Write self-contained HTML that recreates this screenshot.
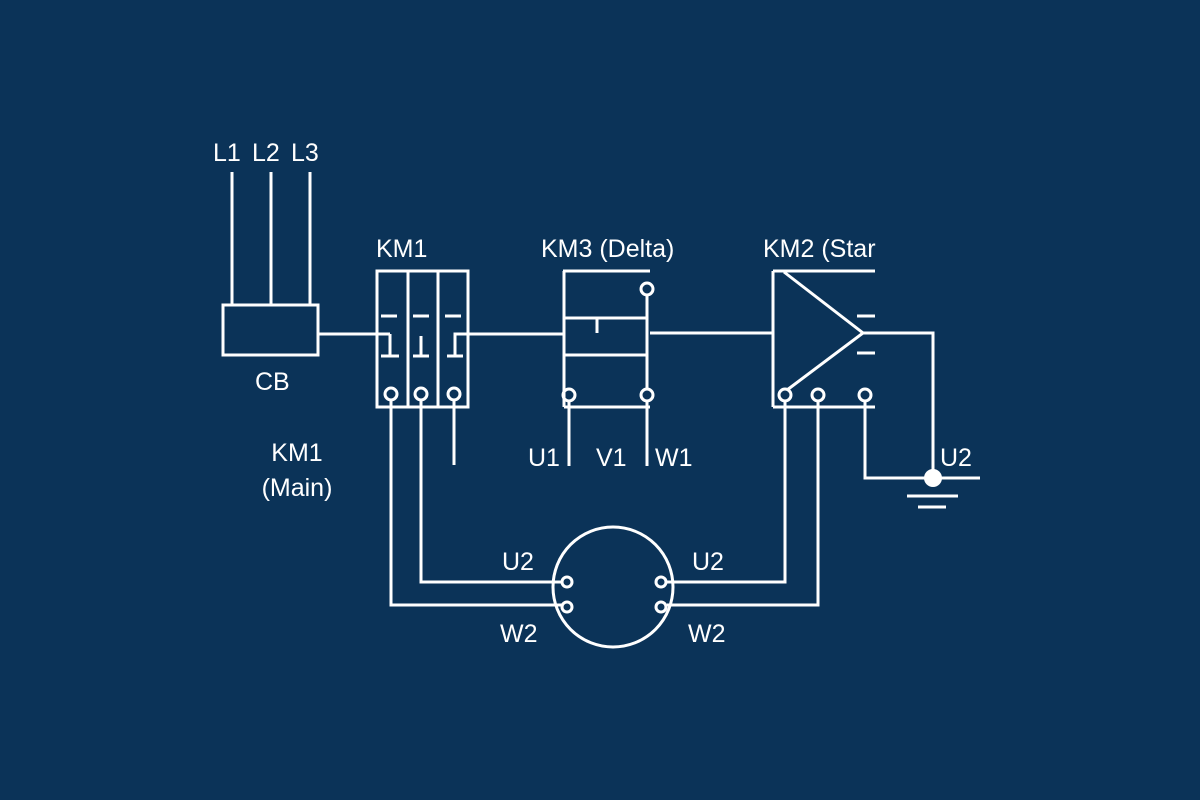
<!DOCTYPE html>
<html><head><style>
html,body{margin:0;padding:0;background:#0b3358;}
svg{display:block}
text{font-family:"Liberation Sans",sans-serif;font-size:25px;fill:#fff;}
</style></head><body>
<svg width="1200" height="800" viewBox="0 0 1200 800">
<rect width="1200" height="800" fill="#0b3358"/>
<g stroke="#fff" stroke-width="3" fill="none">
<line x1="232" y1="172" x2="232" y2="305"/><line x1="271" y1="172" x2="271" y2="305"/><line x1="310" y1="172" x2="310" y2="305"/>
<rect x="223" y="305" width="95" height="50"/>
<line x1="318" y1="334" x2="390" y2="334"/><polyline points="390,334 390,356"/><line x1="381" y1="356" x2="399" y2="356"/>
<rect x="377" y="271" width="91" height="136"/>
<line x1="408" y1="271" x2="408" y2="407"/><line x1="438" y1="271" x2="438" y2="407"/>
<line x1="381" y1="316" x2="397" y2="316"/><line x1="413" y1="316" x2="429" y2="316"/><line x1="445" y1="316" x2="461" y2="316"/>
<line x1="421" y1="336" x2="421" y2="356"/><line x1="413" y1="356" x2="429" y2="356"/>
<polyline points="565,334 455,334 455,356"/><line x1="447" y1="356" x2="463" y2="356"/>
<circle cx="391" cy="394" r="6"/><circle cx="421" cy="394" r="6"/><circle cx="454" cy="394" r="6"/>
<polyline points="391,400 391,605 562,605"/><polyline points="421,400 421,582 562,582"/><line x1="454" y1="400" x2="454" y2="465"/>
<line x1="563" y1="271" x2="650" y2="271"/><line x1="564" y1="271" x2="564" y2="407"/>
<circle cx="647" cy="289" r="6"/><line x1="647" y1="295" x2="647" y2="389"/>
<line x1="564" y1="318" x2="647" y2="318"/><line x1="564" y1="355" x2="647" y2="355"/><line x1="597" y1="318" x2="597" y2="333"/>
<line x1="650" y1="333" x2="773" y2="333"/>
<circle cx="569" cy="395" r="6"/><circle cx="647" cy="395" r="6"/>
<line x1="564" y1="407" x2="650" y2="407"/>
<line x1="569" y1="401" x2="569" y2="466"/><line x1="647" y1="401" x2="647" y2="466"/>
<line x1="773" y1="271" x2="773" y2="407"/><line x1="773" y1="271" x2="875" y2="271"/>
<polyline points="784,272 863,333 787,390"/>
<line x1="857" y1="316" x2="875" y2="316"/><line x1="857" y1="353" x2="875" y2="353"/>
<line x1="773" y1="407" x2="875" y2="407"/>
<circle cx="785" cy="395" r="6"/><circle cx="818" cy="395" r="6"/><circle cx="865" cy="395" r="6"/>
<polyline points="785,401 785,582 667,582"/><polyline points="818,401 818,605 667,605"/>
<polyline points="865,401 865,478 980,478"/>
<polyline points="863,333 933,333 933,478"/>
<line x1="907" y1="496" x2="958" y2="496"/><line x1="918" y1="507" x2="946" y2="507"/>
<circle cx="613" cy="587" r="60"/>
<circle cx="567" cy="582" r="5"/><circle cx="567" cy="607" r="5"/><circle cx="661" cy="582" r="5"/><circle cx="661" cy="607" r="5"/>
</g>
<circle cx="933" cy="478" r="9" fill="#fff"/>
<text x="213" y="161">L1</text><text x="252" y="161">L2</text><text x="291" y="161">L3</text>
<text x="376" y="257">KM1</text>
<text x="255" y="390">CB</text>
<text x="297" y="461" text-anchor="middle">KM1</text><text x="297" y="496" text-anchor="middle">(Main)</text>
<text x="541" y="257">KM3 (Delta)</text>
<text x="763" y="257">KM2 (Star</text>
<text x="528" y="466">U1</text><text x="596" y="466">V1</text><text x="655" y="466">W1</text>
<text x="940" y="466">U2</text>
<text x="502" y="570">U2</text><text x="500" y="642">W2</text>
<text x="692" y="570">U2</text><text x="688" y="642">W2</text>
</svg>
</body></html>
